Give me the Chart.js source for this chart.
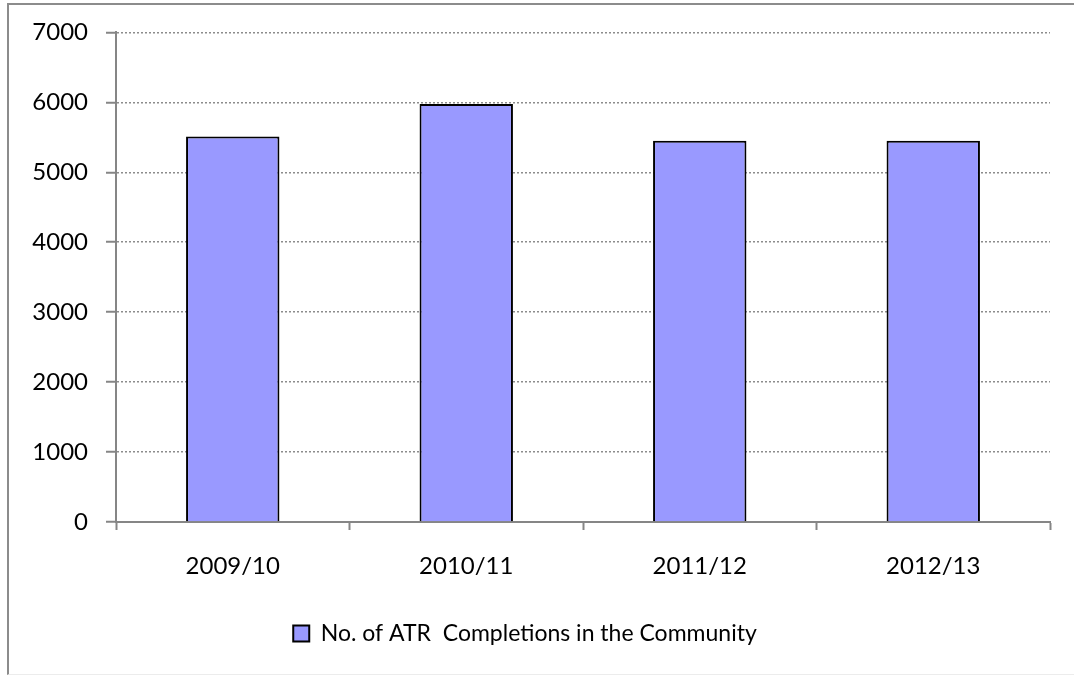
<!DOCTYPE html>
<html lang="en">
<head>
    <meta charset="UTF-8">
    <title>ATR Completions in the Community</title>
    <script src="https://cdn.jsdelivr.net/npm/chart.js"></script>
    <style>
        html, body { margin: 0; padding: 0; background: #fff; }
        #wrap { position: relative; width: 1074px; height: 675px; overflow: hidden; }
        #frame {
            position: absolute; left: 7px; top: 3px; width: 1100px; height: 669px;
            border-left: 2px solid #8c8c8c; border-top: 2px solid #8c8c8c;
            border-bottom: 1px solid #ececec;
        }
        #atrChart { position: absolute; left: 0; top: 0; }
    </style>
</head>
<body>
    <div id="wrap">
        <div id="frame"></div>
        <canvas id="atrChart" width="1074" height="675"></canvas>
    </div>
    <script>
        const years = ['2009/10', '2010/11', '2011/12', '2012/13'];
        const completions = [5510, 5975, 5450, 5450];
        const seriesName = 'No. of ATR  Completions in the Community';

        const axisGrey = '#868686';
        const fontFace = 'Lato, "Open Sans", sans-serif';

        const ctx = document.getElementById('atrChart').getContext('2d');
        new Chart(ctx, {
            type: 'bar',
            data: {
                labels: years,
                datasets: [{
                    label: seriesName,
                    data: completions,
                    backgroundColor: '#9999ff',
                    borderColor: '#000',
                    borderWidth: 2,
                    barPercentage: 0.4,
                    categoryPercentage: 1
                }]
            },
            options: {
                responsive: false,
                animation: false,
                layout: { padding: { top: 32, right: 24, bottom: 20, left: 0 } },
                plugins: {
                    tooltip: { enabled: false },
                    legend: {
                        position: 'bottom',
                        labels: {
                            color: '#000',
                            font: { family: fontFace, size: 23 },
                            boxWidth: 16,
                            boxHeight: 16,
                            padding: 10
                        }
                    }
                },
                scales: {
                    x: {
                        afterFit: s => { s.height = 90; },
                        grid: {
                            offset: true,
                            drawOnChartArea: false,
                            drawTicks: true,
                            tickLength: 8,
                            tickColor: axisGrey,
                            tickWidth: 2
                        },
                        border: { color: axisGrey, width: 2 },
                        ticks: {
                            color: '#000',
                            padding: 22,
                            font: { family: fontFace, size: 24 }
                        }
                    },
                    y: {
                        min: 0,
                        max: 7000,
                        afterFit: s => { s.width = 116; },
                        grid: {
                            color: '#8c8c8c',
                            lineWidth: 1.5,
                            tickLength: 10,
                            tickColor: axisGrey,
                            tickWidth: 2,
                            tickBorderDash: []
                        },
                        border: { color: axisGrey, width: 2, dash: [2, 2] },
                        ticks: {
                            stepSize: 1000,
                            color: '#000',
                            padding: 18,
                            font: { family: fontFace, size: 24 },
                            callback: v => String(v)
                        }
                    }
                }
            }
        });
    </script>
</body>
</html>
